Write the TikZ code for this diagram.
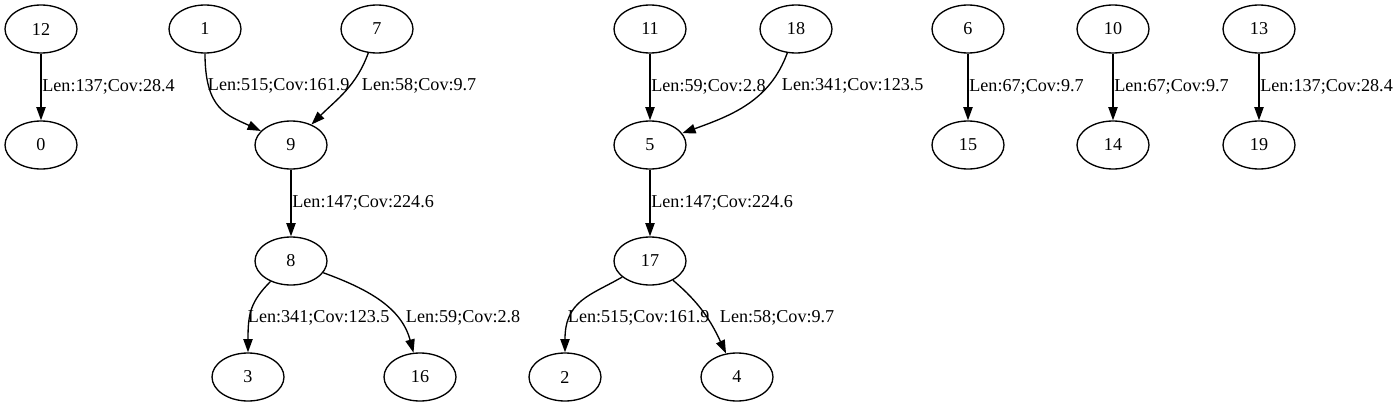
\documentclass[tikz,border=0pt]{standalone}
\usepackage{fontspec}
\setmainfont{Liberation Serif}
\usetikzlibrary{arrows.meta,shapes.geometric}

\begin{document}
\begin{tikzpicture}[
    x=0.75pt, y=0.75pt,
    >={Triangle[length=10pt,width=7pt]},
    every node/.style={font=\fontsize{13.6pt}{16pt}\selectfont},
    contig/.style={draw, ellipse, minimum width=54pt, minimum height=36pt, inner sep=0pt, line width=1pt},
    lbl/.style={anchor=west, inner sep=0.5pt}
]
    \useasboundingbox (0,0) rectangle (1397,-407);

    % Contigs, placed at pixel coordinates of the layout (y downwards)
    \node[contig] (n12) at (41,-29) {12};
    \node[contig] (n0)  at (41,-145) {0};
    \node[contig] (n1)  at (205,-29) {1};
    \node[contig] (n7)  at (377,-29) {7};
    \node[contig] (n9)  at (291,-145) {9};
    \node[contig] (n8)  at (291,-261) {8};
    \node[contig] (n3)  at (248,-377) {3};
    \node[contig] (n16) at (420,-377) {16};
    \node[contig] (n11) at (650,-29) {11};
    \node[contig] (n18) at (796,-29) {18};
    \node[contig] (n5)  at (650,-145) {5};
    \node[contig] (n17) at (650,-261) {17};
    \node[contig] (n2)  at (565,-377) {2};
    \node[contig] (n4)  at (737,-377) {4};
    \node[contig] (n6)  at (968,-29) {6};
    \node[contig] (n15) at (968,-145) {15};
    \node[contig] (n10) at (1113,-29) {10};
    \node[contig] (n14) at (1113,-145) {14};
    \node[contig] (n13) at (1259,-29) {13};
    \node[contig] (n19) at (1259,-145) {19};

    % Labels of the curved links
    \node[lbl] (l19) at (207,-86) {Len:515;Cov:161.9};
    \node[lbl] (l79) at (361,-86) {Len:58;Cov:9.7};
    \node[lbl] (l83) at (247,-318) {Len:341;Cov:123.5};
    \node[lbl] (l816) at (405,-318) {Len:59;Cov:2.8};
    \node[lbl] (l185) at (781,-86) {Len:341;Cov:123.5};
    \node[lbl] (l172) at (567,-318) {Len:515;Cov:161.9};
    \node[lbl] (l174) at (719,-318) {Len:58;Cov:9.7};

    % Links with length and coverage
    \path[->, line width=1pt]
        (n12) edge node[lbl, pos=0.5] {Len:137;Cov:28.4} (n0)
        (n1)  edge[out=-90, in=155, out looseness=1.5] (n9)
        (n7)  edge[out=-110, in=45] (n9)
        (n9)  edge node[lbl, pos=0.5] {Len:147;Cov:224.6} (n8)
        (n8)  edge[out=-135, in=90, in looseness=1.3] (n3)
        (n8)  edge[out=-20, in=105] (n16)
        (n11) edge node[lbl, pos=0.5] {Len:59;Cov:2.8} (n5)
        (n18) edge[out=-110, in=20] (n5)
        (n5)  edge node[lbl, pos=0.5] {Len:147;Cov:224.6} (n17)
        (n17) edge[out=-150, in=90, in looseness=1.4] (n2)
        (n17) edge[out=-40, in=115] (n4)
        (n6)  edge node[lbl, pos=0.5] {Len:67;Cov:9.7} (n15)
        (n10) edge node[lbl, pos=0.5] {Len:67;Cov:9.7} (n14)
        (n13) edge node[lbl, pos=0.5] {Len:137;Cov:28.4} (n19);
\end{tikzpicture}
\end{document}
